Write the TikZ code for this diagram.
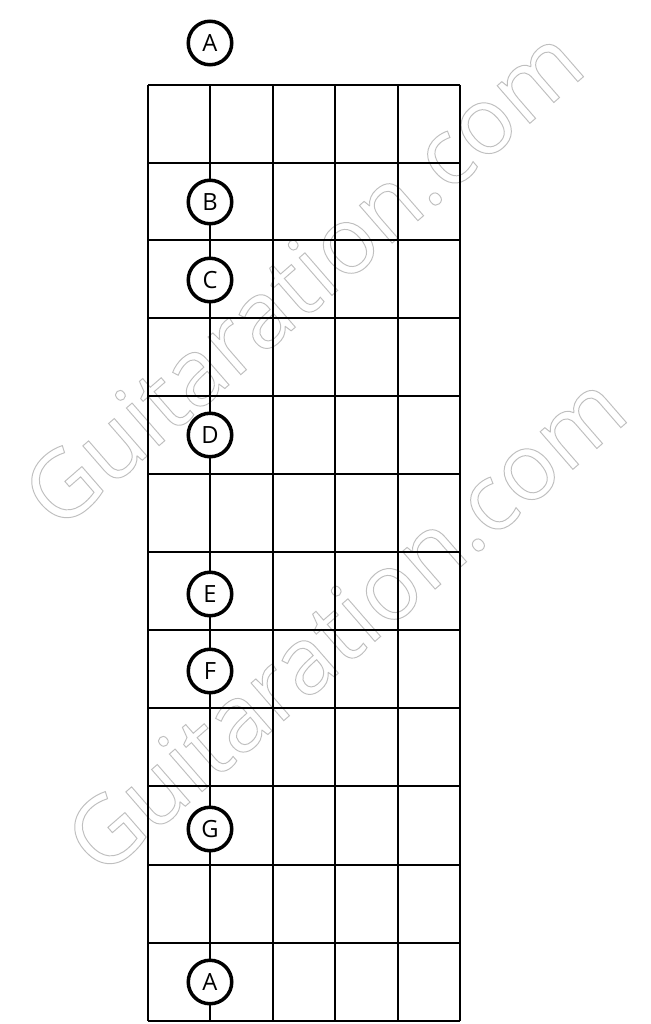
\documentclass[tikz,border=0pt]{standalone}
\usepackage{fontspec}
\setmainfont{Open Sans}
\newcommand{\outlinetext}[1]{\special{pdf:literal direct 1 Tr 0.55 w}#1\special{pdf:literal direct 0 Tr}}
\tikzset{
    note/.style={circle, draw, line width=2pt, fill=white, minimum size=0.87cm, inner sep=0pt, font=\fontsize{13.5}{13.5}\selectfont},
    fret/.style={line width=1.5pt},
    watermark/.style={rotate=41, text=black!25, font=\fontsize{53}{53}\selectfont}
}
\begin{document}
\begin{tikzpicture}[x=0.02cm, y=-0.02cm]
    \useasboundingbox (0,0) rectangle (651,1024);
    % watermark
    \node[watermark] (wm1) at (302,277) {\outlinetext{Guitaration.com}};
    \node[watermark] (wm2) at (345,623) {\outlinetext{Guitaration.com}};
    % fretboard
    \foreach \y in {85,163,240,318,396,474,552,630,708,786,865,943,1021}
        \draw[fret] (148,\y) -- (460,\y);
    \foreach \x in {148,210,273,335,398,460}
        \draw[fret] (\x,85) -- (\x,1021);
    % notes
    \node[note] (A) at (210,43) {A};
    \node[note] (B) at (210,202) {B};
    \node[note] (C) at (210,280) {C};
    \node[note] (D) at (210,435) {D};
    \node[note] (E) at (210,594) {E};
    \node[note] (F) at (210,671) {F};
    \node[note] (G) at (210,829) {G};
    \node[note] (A2) at (210,982) {A};
\end{tikzpicture}
\end{document}
